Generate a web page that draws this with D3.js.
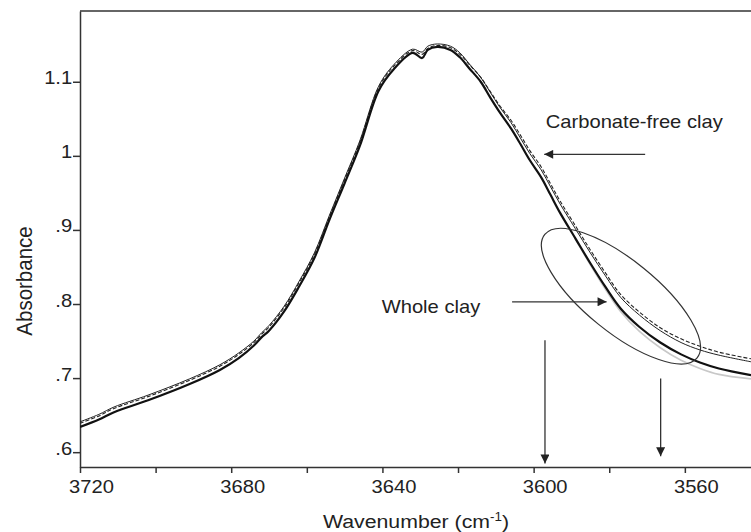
<!DOCTYPE html>
<html>
<head>
<meta charset="utf-8">
<script src="https://cdnjs.cloudflare.com/ajax/libs/d3/7.8.5/d3.min.js"></script>
<style>
body { margin: 0; background: #fff; }
text { font-family: "Liberation Sans", Arial, sans-serif; fill: #222; }
</style>
</head>
<body>
<div id="chart"></div>
<script>
// Spectra (wavenumber in cm-1, absorbance)
var wavenumber = [3720, 3715, 3711, 3702, 3691, 3683, 3678, 3674, 3672, 3670, 3666, 3662, 3658, 3654, 3650, 3646,
    3641, 3637, 3632, 3629.5, 3628, 3625.5, 3622, 3619.5, 3617, 3614, 3611.5, 3609, 3606, 3603.5, 3601, 3598,
    3595.5, 3593, 3589, 3585, 3581, 3577, 3572, 3566.5, 3561, 3556, 3551, 3542.5];

var wholeClay = [0.634, 0.644, 0.654, 0.670, 0.692, 0.711, 0.727, 0.744, 0.755, 0.764, 0.790, 0.824, 0.862, 0.914, 0.963, 1.013,
    1.088, 1.117, 1.139, 1.132, 1.143, 1.147, 1.143, 1.133, 1.118, 1.100, 1.079, 1.059, 1.037, 1.016, 0.994, 0.971,
    0.947, 0.923, 0.889, 0.855, 0.823, 0.794, 0.769, 0.748, 0.732, 0.721, 0.713, 0.704];

var carbonateFree = [0.639, 0.649, 0.659, 0.675, 0.697, 0.716, 0.732, 0.748, 0.759, 0.769, 0.795, 0.829, 0.867, 0.918, 0.968, 1.018,
    1.092, 1.121, 1.142, 1.137, 1.145, 1.149, 1.146, 1.137, 1.123, 1.106, 1.087, 1.068, 1.048, 1.028, 1.007, 0.985,
    0.962, 0.939, 0.906, 0.873, 0.842, 0.813, 0.789, 0.768, 0.753, 0.743, 0.735, 0.726];

var secondScan = [0.641, 0.651, 0.661, 0.677, 0.699, 0.718, 0.734, 0.750, 0.761, 0.771, 0.797, 0.831, 0.869, 0.920, 0.970, 1.020,
    1.094, 1.123, 1.144, 1.140, 1.148, 1.151, 1.148, 1.139, 1.124, 1.106, 1.086, 1.066, 1.045, 1.024, 1.003, 0.981,
    0.958, 0.935, 0.902, 0.869, 0.838, 0.809, 0.785, 0.764, 0.748, 0.738, 0.731, 0.722];

var greyWavenumber = [3589, 3585, 3581, 3577, 3572, 3566.5, 3561, 3556, 3551, 3542.5];
var greyTrace = [0.888, 0.853, 0.820, 0.790, 0.763, 0.741, 0.724, 0.713, 0.705, 0.699];

var xTicks = [3720, 3700, 3680, 3660, 3640, 3620, 3600, 3580, 3560];
var xLabelled = [3720, 3680, 3640, 3600, 3560];
var yTicks = [0.6, 0.7, 0.8, 0.9, 1, 1.1];
var yTickLabels = [".6", ".7", ".8", ".9", "1", "1.1"];

// annotations, in data units
var labels = [
    {text: "Carbonate-free clay", w: 3596.8, a: 1.0375},
    {text: "Whole clay", w: 3640.2, a: 0.7877}
];
var arrows = [
    {w1: 3570.5, a1: 1.002, w2: 3597.2, a2: 1.002},
    {w1: 3605.7, a1: 0.803, w2: 3580.7, a2: 0.803},
    {w1: 3597.0, a1: 0.751, w2: 3597.0, a2: 0.5847},
    {w1: 3566.4, a1: 0.6995, w2: 3566.4, a2: 0.5946}
];
var ring = {w: 3576.9, a: 0.8106};

var svgWidth = 751;
var svgHeight = 532;
var margin = {top: 11, right: 0, bottom: 65, left: 80};
var stretch = "scale(1.12,1)";

var svg = d3.select("#chart")
    .append("svg")
    .attr("width", svgWidth)
    .attr("height", svgHeight);

var x = d3.scaleLinear()
    .domain([3720, 3542.5])
    .range([margin.left, svgWidth - margin.right]);

var y = d3.scaleLinear()
    .domain([0.58, 1.1955])
    .range([svgHeight - margin.bottom, margin.top]);

svg.append("defs").append("clipPath")
    .attr("id", "plot")
    .append("rect")
    .attr("x", margin.left)
    .attr("y", margin.top)
    .attr("width", svgWidth - margin.left)
    .attr("height", svgHeight - margin.top - margin.bottom);

svg.select("defs").append("marker")
    .attr("id", "head")
    .attr("viewBox", "0 0 10 10")
    .attr("refX", 10)
    .attr("refY", 5)
    .attr("markerWidth", 11)
    .attr("markerHeight", 9)
    .attr("markerUnits", "userSpaceOnUse")
    .attr("orient", "auto")
    .append("path")
    .attr("d", "M0,0L10,5L0,10z")
    .attr("fill", "#222");

// Axes
var xAxis = svg.append("g")
    .attr("transform", `translate(0, ${y.range()[0]})`)
    .call(d3.axisBottom(x).tickValues(xTicks).tickSize(6).tickSizeOuter(0)
        .tickFormat(d => xLabelled.indexOf(d) >= 0 ? d : ""));
xAxis.selectAll("text")
    .attr("y", 26)
    .attr("dy", null)
    .attr("transform", "translate(11,0) " + stretch)
    .style("font-size", "18px")
    .style("fill", "#222");

var yAxis = svg.append("g")
    .attr("transform", `translate(${margin.left}, 0)`)
    .call(d3.axisLeft(y).tickValues(yTicks).tickSize(7).tickSizeOuter(0)
        .tickFormat((d, i) => yTickLabels[i]));
yAxis.selectAll("text")
    .attr("x", -7)
    .attr("y", 2)
    .attr("dy", null)
    .attr("transform", stretch)
    .style("font-size", "18px")
    .style("fill", "#222");

svg.selectAll(".domain, .tick line")
    .attr("stroke", "#333")
    .attr("stroke-width", 1.5);

svg.append("line")
    .attr("x1", x.range()[0])
    .attr("x2", x.range()[1])
    .attr("y1", y.range()[1])
    .attr("y2", y.range()[1])
    .attr("stroke", "#333")
    .attr("stroke-width", 1.5);

// Axis titles
var xTitle = svg.append("text")
    .attr("transform", `translate(416, 528) ${stretch}`)
    .attr("text-anchor", "middle")
    .style("font-size", "19px");
xTitle.append("tspan").text("Wavenumber (cm");
xTitle.append("tspan").attr("dy", -7).style("font-size", "12px").text("-1");
xTitle.append("tspan").attr("dy", 7).text(")");

svg.append("text")
    .attr("transform", `translate(32, 281) scale(1.12,1) rotate(-90)`)
    .attr("text-anchor", "middle")
    .style("font-size", "20.5px")
    .text("Absorbance");

// Spectra
var line = d3.line()
    .x(d => x(d[0]))
    .y(d => y(d[1]))
    .curve(d3.curveCatmullRom.alpha(0.5));

var traces = [
    {w: greyWavenumber, a: greyTrace, color: "#c8c8c8", width: 1.6, dash: null},
    {w: wavenumber, a: carbonateFree, color: "#222", width: 1.1, dash: "4,2"},
    {w: wavenumber, a: secondScan, color: "#222", width: 1, dash: null},
    {w: wavenumber, a: wholeClay, color: "#111", width: 2.2, dash: null}
];

svg.append("g")
    .attr("clip-path", "url(#plot)")
    .selectAll("path")
    .data(traces)
    .enter()
    .append("path")
    .attr("d", t => line(t.w.map((w, i) => [w, t.a[i]])))
    .attr("fill", "none")
    .attr("stroke", t => t.color)
    .attr("stroke-width", t => t.width)
    .attr("stroke-dasharray", t => t.dash)
    .attr("stroke-linejoin", "round");

// Annotations
svg.selectAll(".note")
    .data(labels)
    .enter()
    .append("text")
    .attr("class", "note")
    .attr("transform", d => `translate(${x(d.w)}, ${y(d.a)}) ${stretch}`)
    .style("font-size", "18px")
    .text(d => d.text);

svg.selectAll(".arrow")
    .data(arrows)
    .enter()
    .append("line")
    .attr("class", "arrow")
    .attr("x1", d => x(d.w1))
    .attr("y1", d => y(d.a1))
    .attr("x2", d => x(d.w2))
    .attr("y2", d => y(d.a2))
    .attr("stroke", "#333")
    .attr("stroke-width", 1.3)
    .attr("marker-end", "url(#head)");

svg.append("ellipse")
    .attr("transform", `translate(${x(ring.w)}, ${y(ring.a)}) rotate(39)`)
    .attr("rx", 98)
    .attr("ry", 36)
    .attr("fill", "none")
    .attr("stroke", "#333")
    .attr("stroke-width", 1.2);
</script>
</body>
</html>
